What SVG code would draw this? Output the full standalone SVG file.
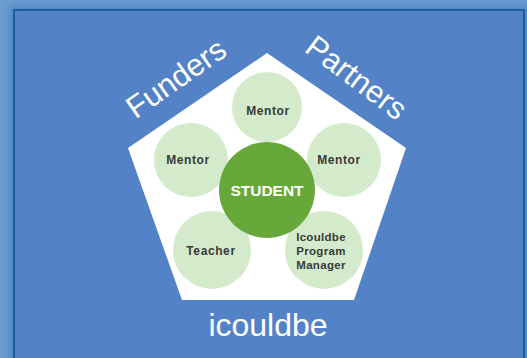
<svg xmlns="http://www.w3.org/2000/svg" width="527" height="358" viewBox="0 0 527 358">
  <defs>
    <filter id="shadow" x="-10%" y="-10%" width="120%" height="120%">
      <feGaussianBlur stdDeviation="5"/>
    </filter>
    <style>
      .small { fill: #d4ebcb; }
      .lbl { font-family: "Liberation Sans", Arial, sans-serif; font-weight: bold; font-size: 12px; letter-spacing: 0.6px; fill: #3a3a3a; text-anchor: middle; }
      .pm { font-size: 11.5px; letter-spacing: 0.3px; }
      .big { font-family: "Liberation Sans", Arial, sans-serif; fill: #ffffff; text-anchor: middle; }
    </style>
  </defs>
  <rect x="0" y="0" width="527" height="358" fill="#6b9dd2"/>
  <rect x="10" y="6" width="520" height="360" fill="#3f6fae" opacity="0.6" filter="url(#shadow)"/>
  <rect x="14" y="10" width="510" height="356" fill="#5383c6" stroke="#1b5ea6" stroke-width="2"/>
  <g id="pentagon">
    <polygon points="267,53 406,148 354,300 182,300 128,148" fill="#ffffff"/>
  </g>
  <g id="funders">
    <text class="big" font-size="31" transform="translate(182,87) rotate(-35)">Funders</text>
  </g>
  <g id="partners">
    <text class="big" font-size="31" transform="translate(350,86) rotate(37)">Partners</text>
  </g>
  <g id="mentor-top">
    <circle class="small" cx="267" cy="107" r="35"/>
    <text class="lbl" x="268" y="115">Mentor</text>
  </g>
  <g id="mentor-left">
    <circle class="small" cx="191" cy="160" r="37"/>
    <text class="lbl" x="188" y="164">Mentor</text>
  </g>
  <g id="mentor-right">
    <circle class="small" cx="344" cy="160" r="37"/>
    <text class="lbl" x="339" y="164">Mentor</text>
  </g>
  <g id="teacher">
    <circle class="small" cx="212" cy="250" r="39"/>
    <text class="lbl" x="211" y="255">Teacher</text>
  </g>
  <g id="program-manager">
    <circle class="small" cx="324" cy="250" r="39"/>
    <text class="lbl pm" x="321" y="241">Icouldbe</text>
    <text class="lbl pm" x="321" y="255">Program</text>
    <text class="lbl pm" x="321" y="269">Manager</text>
  </g>
  <g id="student">
    <circle cx="267" cy="190" r="48" fill="#66a83a"/>
    <text class="big" font-size="15.5" font-weight="bold" x="267" y="196">STUDENT</text>
  </g>
  <g id="icouldbe">
    <text class="big" font-size="32" x="268" y="336">icouldbe</text>
  </g>
  <g id="connectors"/>
</svg>
